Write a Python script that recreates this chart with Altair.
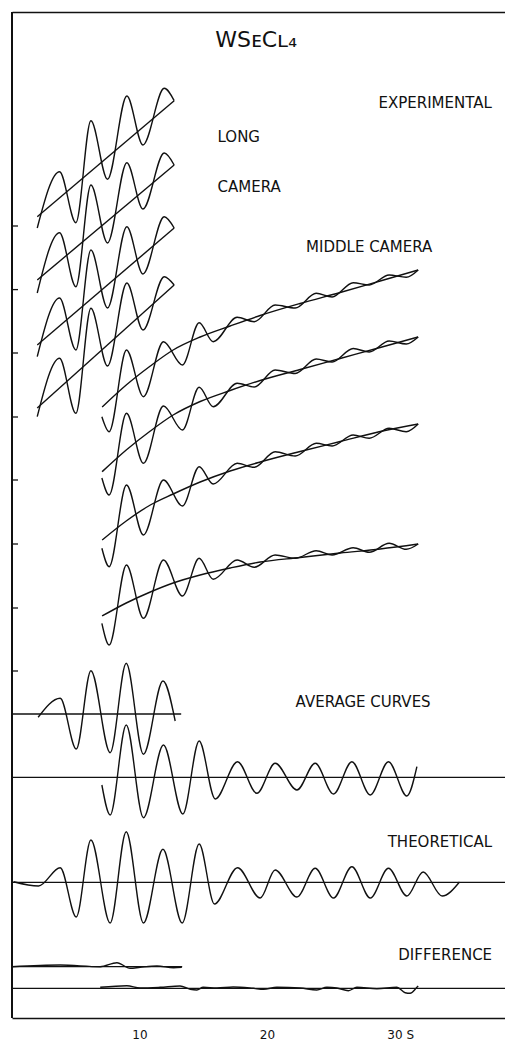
import altair as alt
import pandas as pd

# ---------------- values ----------------
# x: scattering variable s ; y: intensity in plot units (0 = bottom frame)
LONG_S = [1.98, 3.73, 5.01, 6.19, 7.49, 9.01, 10.27, 11.94, 12.72]
LONG_1 = [790.0, 846.3, 795.3, 897.3, 838.7, 922.0, 873.0, 929.7, 917.3]
LONG_2 = [725.0, 785.3, 731.3, 833.0, 775.0, 855.3, 809.0, 865.0, 853.0]
LONG_3 = [661.3, 720.0, 668.0, 768.0, 710.0, 791.3, 744.0, 801.3, 790.0]
LONG_4 = [601.3, 659.7, 604.7, 709.7, 652.0, 735.0, 688.0, 741.3, 733.0]
LONG_BG_S = [1.98, 12.72]
LONG_BG_1 = [801.3, 917.3]
LONG_BG_2 = [738.0, 853.0]
LONG_BG_3 = [673.0, 790.0]
LONG_BG_4 = [610.0, 733.0]

MID_S = [7.05, 7.62, 8.98, 10.31, 11.88, 13.37, 14.68, 15.78, 17.66, 19.00,
         20.64, 22.21, 23.86, 25.11, 26.76, 28.02, 29.58, 30.92, 31.86]
MID_1 = [601.3, 586.3, 668.0, 621.3, 676.3, 653.0, 695.3, 676.3, 700.7, 696.3,
         713.0, 710.0, 724.7, 721.0, 735.3, 733.0, 743.0, 740.7, 748.0]
MID_2 = [540.0, 523.0, 604.7, 554.7, 612.0, 588.0, 630.7, 611.3, 634.7, 631.0,
         648.0, 644.5, 659.0, 656.0, 669.5, 666.0, 677.0, 674.0, 681.0]
MID_3 = [469.7, 451.3, 533.0, 483.0, 538.0, 512.0, 551.3, 534.0, 554.7, 550.7,
         566.3, 562.0, 574.7, 572.0, 583.0, 579.7, 589.7, 586.3, 594.0]
MID_4 = [394.7, 373.0, 453.0, 399.7, 458.0, 422.0, 459.7, 438.7, 458.0, 450.7,
         463.0, 459.7, 467.3, 463.0, 470.3, 465.7, 474.7, 468.7, 474.0]
MID_BG_S = [7.07, 8.96, 10.85, 12.64, 14.76, 17.11, 19.47, 22.60, 25.74, 28.88, 31.86]
MID_BG_1 = [611.0, 633.0, 652.0, 668.0, 681.0, 692.0, 702.5, 714.5, 725.5, 737.0, 748.0]
MID_BG_2 = [546.3, 568.0, 587.0, 603.0, 616.5, 627.5, 637.5, 648.5, 659.5, 670.5, 681.0]
MID_BG_3 = [478.0, 497.0, 513.0, 524.0, 536.0, 547.0, 556.0, 566.5, 576.5, 586.5, 594.0]
MID_BG_4 = [402.0, 415.0, 426.0, 435.0, 443.0, 450.0, 456.0, 460.5, 465.0, 469.0, 474.0]

AVG_LONG_S = [2.05, 3.78, 5.04, 6.19, 7.70, 8.96, 10.31, 11.84, 12.80]
AVG_LONG_Y = [300.7, 319.7, 269.0, 347.3, 265.3, 354.7, 263.7, 337.0, 297.0]

AVG_MID_S = [7.05, 7.70, 8.96, 10.31, 11.88, 13.40, 14.68, 15.94, 17.69, 19.21,
             20.64, 22.35, 23.78, 25.22, 26.66, 28.10, 29.53, 30.97, 31.76]
AVG_MID_Y = [233.0, 203.0, 293.0, 200.3, 273.0, 204.0, 277.0, 219.0, 256.3, 224.7,
             254.7, 228.0, 254.7, 224.0, 256.3, 223.0, 256.3, 222.0, 251.3]

THEO_S = [0.12, 2.08, 3.78, 5.04, 6.19, 7.70, 8.96, 10.31, 11.84, 13.35, 14.68,
          15.88, 17.69, 19.47, 20.64, 22.35, 23.78, 25.22, 26.66, 28.10, 29.53,
          30.97, 32.25, 33.74, 35.10]
THEO_Y = [136.3, 132.0, 150.3, 101.0, 178.0, 95.0, 186.3, 95.0, 168.7, 95.0, 174.0,
          114.0, 150.3, 120.0, 148.0, 121.0, 149.7, 120.0, 151.3, 120.0, 149.7,
          122.0, 146.0, 122.0, 136.0]

DIFF_LONG_S = [0.0, 3.78, 6.92, 8.23, 9.27, 10.05, 11.37, 12.67, 13.32]
DIFF_LONG_Y = [51.3, 53.0, 51.3, 55.3, 49.7, 50.7, 52.0, 50.3, 50.7]

DIFF_MID_S = [6.92, 9.01, 10.05, 11.62, 13.18, 13.98, 14.50, 15.00, 16.07, 17.35,
              18.92, 19.73, 20.78, 22.60, 23.91, 24.70, 25.48, 26.39, 27.05, 28.62,
              30.19, 30.84, 31.23, 31.76, 31.86]
DIFF_MID_Y = [30.7, 32.3, 30.0, 30.7, 32.0, 28.7, 28.0, 30.7, 30.0, 31.0,
              29.7, 28.7, 30.7, 30.0, 28.0, 30.7, 30.0, 27.3, 30.7, 29.3,
              30.7, 25.3, 24.7, 30.7, 32.0]

BASE_NAMES = ["avg long", "avg middle", "theoretical", "diff long", "diff middle"]
BASE_Y = [304.0, 240.7, 135.7, 51.3, 29.7]
BASE_END = [13.27, 38.67, 38.67, 13.35, 38.67]

Y_TICKS = [792, 728.4, 665, 601, 538, 474, 410, 347]
X_TICKS = [10, 20, 30]

LABEL_TEXT = ["EXPERIMENTAL", "MIDDLE CAMERA", "AVERAGE CURVES", "THEORETICAL", "DIFFERENCE"]
LABEL_S = [33.19, 28.02, 27.54, 33.56, 33.98]
LABEL_Y = [915.0, 770.7, 316.3, 176.0, 63.0]
LEFT_TEXT = ["LONG", "CAMERA"]
LEFT_S = [16.12, 16.12]
LEFT_Y = [881.0, 831.3]
TITLE_TEXT = ["WSᴇCʟ₄"]
TITLE_S = [19.15]
TITLE_Y = [978.0]

# ---------------- build tables ----------------
curves = [
    ("long1", LONG_S, LONG_1), ("long2", LONG_S, LONG_2),
    ("long3", LONG_S, LONG_3), ("long4", LONG_S, LONG_4),
    ("longbg1", LONG_BG_S, LONG_BG_1), ("longbg2", LONG_BG_S, LONG_BG_2),
    ("longbg3", LONG_BG_S, LONG_BG_3), ("longbg4", LONG_BG_S, LONG_BG_4),
    ("mid1", MID_S, MID_1), ("mid2", MID_S, MID_2),
    ("mid3", MID_S, MID_3), ("mid4", MID_S, MID_4),
    ("midbg1", MID_BG_S, MID_BG_1), ("midbg2", MID_BG_S, MID_BG_2),
    ("midbg3", MID_BG_S, MID_BG_3), ("midbg4", MID_BG_S, MID_BG_4),
    ("avglong", AVG_LONG_S, AVG_LONG_Y), ("avgmid", AVG_MID_S, AVG_MID_Y),
    ("theo", THEO_S, THEO_Y),
    ("difflong", DIFF_LONG_S, DIFF_LONG_Y), ("diffmid", DIFF_MID_S, DIFF_MID_Y),
]
rows = []
for name, xs, ys in curves:
    for i, (a, b) in enumerate(zip(xs, ys)):
        rows.append({"curve": name, "i": i, "s": a, "y": b})
df = pd.DataFrame(rows)

bdf = pd.DataFrame({"name": BASE_NAMES, "s0": [0.0] * len(BASE_NAMES),
                    "s1": BASE_END, "y": BASE_Y})
tickdf = pd.DataFrame({"t": Y_TICKS})
ldf = pd.DataFrame({"text": LABEL_TEXT, "s": LABEL_S, "y": LABEL_Y})
lldf = pd.DataFrame({"text": LEFT_TEXT, "s": LEFT_S, "y": LEFT_Y})
tdf = pd.DataFrame({"text": TITLE_TEXT, "s": TITLE_S, "y": TITLE_Y})

W, H = 493, 1006
XMAX = 38.67
xs_ = alt.Scale(domain=[0, XMAX], nice=False, zero=False)
ys_ = alt.Scale(domain=[0, H], nice=False, zero=False)
INK = "#111111"
FONT = "DejaVu Sans"
LW = 1.4

bottom_axis = alt.Axis(
    orient="bottom", values=X_TICKS, title=None, grid=False, ticks=False, tickSize=0,
    domain=True, domainColor=INK, domainWidth=1.5,
    labelFont=FONT, labelFontSize=12, labelColor=INK, labelPadding=11,
    labelExpr="datum.value == 30 ? '30 S' : datum.label",
    labelAlign={"condition": {"test": "datum.value == 30", "value": "left"}, "value": "center"},
    labelOffset={"condition": {"test": "datum.value == 30", "value": -7.6}, "value": 0},
)
top_axis = alt.Axis(orient="top", title=None, grid=False, ticks=False, labels=False,
                    domain=True, domainColor=INK, domainWidth=1.5)

lines = alt.Chart(df).mark_line(interpolate="monotone", color=INK, strokeWidth=LW).encode(
    x=alt.X("s:Q", scale=xs_, axis=bottom_axis),
    y=alt.Y("y:Q", scale=ys_, axis=None),
    detail="curve:N",
    order="i:Q",
)
base = alt.Chart(bdf).mark_rule(color=INK, strokeWidth=1.3).encode(
    x=alt.X("s0:Q", scale=xs_, axis=None), x2="s1:Q",
    y=alt.Y("y:Q", scale=ys_, axis=None),
)
# left frame line (full height of the y scale) and its short inward ticks
left_frame = alt.Chart(tickdf).mark_rule(color=INK, strokeWidth=1.5).encode(
    x=alt.value(0),
    y=alt.datum(0, scale=ys_, axis=None),
    y2=alt.datum(H),
)
yticks = alt.Chart(tickdf).mark_rule(color=INK, strokeWidth=1.3).encode(
    x=alt.value(0), x2=alt.value(6),
    y=alt.Y("t:Q", scale=ys_, axis=None),
)
labels_c = alt.Chart(ldf).mark_text(font=FONT, fontSize=15, color=INK, align="center",
                                    baseline="middle").encode(
    x=alt.X("s:Q", scale=xs_, axis=None), y=alt.Y("y:Q", scale=ys_, axis=None), text="text:N")
labels_l = alt.Chart(lldf).mark_text(font=FONT, fontSize=15, color=INK, align="left",
                                     baseline="middle").encode(
    x=alt.X("s:Q", scale=xs_, axis=None), y=alt.Y("y:Q", scale=ys_, axis=None), text="text:N")
title = alt.Chart(tdf).mark_text(font=FONT, fontSize=22, color=INK, align="center",
                                 baseline="middle").encode(
    x=alt.X("s:Q", scale=xs_, axis=top_axis), y=alt.Y("y:Q", scale=ys_, axis=None), text="text:N")

chart = alt.layer(lines, base, left_frame, yticks, labels_c, labels_l, title).properties(
    width=W, height=H,
    autosize=alt.AutoSizeParams(type="none"),
    padding={"left": 4, "top": 4, "right": 0, "bottom": 23},
    background="white",
).configure_view(stroke=None)

chart.save("out.html", embed_options={"renderer": "svg", "actions": False})
